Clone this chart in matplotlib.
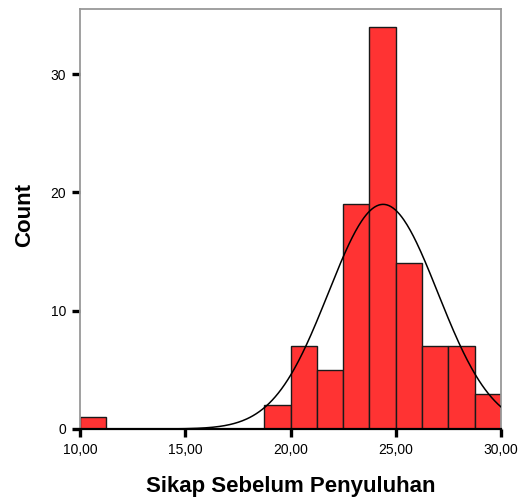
import numpy as np
import matplotlib
matplotlib.use("Agg")
import matplotlib.pyplot as plt

plt.rcParams['font.family'] = ['Liberation Sans', 'DejaVu Sans']

# histogram bins (width 1.25 from 10 to 30) and counts
bin_edges = np.arange(10, 30.01, 1.25)
counts = [1, 0, 0, 0, 0, 0, 0, 2, 7, 5, 19, 34, 14, 7, 7, 3]
x_ticks = [10, 15, 20, 25, 30]
x_tick_labels = ["10,00", "15,00", "20,00", "25,00", "30,00"]
y_ticks = [0, 10, 20, 30]

# normal curve
mean = 24.4
sd = 2.6
n_total = sum(counts)

fig = plt.figure(figsize=(5.21, 5.03), dpi=100)
ax = fig.add_axes([80 / 521, 1 - 429 / 503, 421 / 521, 420 / 503])

widths = np.diff(bin_edges)
ax.bar(bin_edges[:-1], counts, width=widths, align='edge',
       color='#ff3333', edgecolor='#1a1a1a', linewidth=1.0, zorder=2)

xs = np.linspace(10, 30, 400)
ys = n_total * 1.25 / (sd * np.sqrt(2 * np.pi)) * np.exp(-0.5 * ((xs - mean) / sd) ** 2)
ax.plot(xs, ys, color='black', linewidth=1.1, zorder=3)

ax.set_xlim(10, 30)
ax.set_ylim(0, 35.5)
ax.set_xticks(x_ticks)
ax.set_xticklabels(x_tick_labels)
ax.set_yticks(y_ticks)
ax.tick_params(direction='out', length=6, width=2.4, color='black',
               labelsize=10, pad=4)

for s in ['top', 'right', 'left']:
    ax.spines[s].set_color('#999999')
    ax.spines[s].set_linewidth(1.3)
ax.spines['bottom'].set_color('black')
ax.spines['bottom'].set_linewidth(1.6)

ax.set_xlabel("Sikap Sebelum Penyuluhan", fontsize=16, fontweight='bold', labelpad=14)
fig.text(25 / 521, 1 - 215 / 503, "Count", fontsize=16, fontweight='bold',
         rotation=90, ha='center', va='center')

fig.savefig("out.png", dpi=100, facecolor='white')
